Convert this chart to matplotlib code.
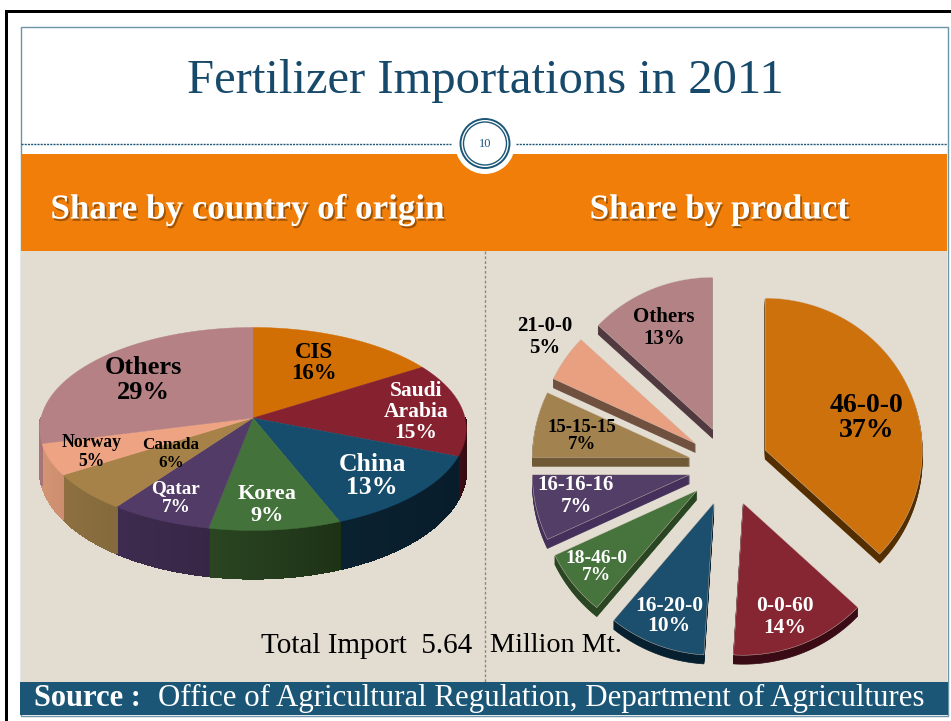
import numpy as np
import matplotlib
matplotlib.use("Agg")
import matplotlib.pyplot as plt
import matplotlib.patheffects as pe
from matplotlib.patches import Rectangle, Circle
from matplotlib.colors import to_rgb

# ---- data ----
origin_names = ["CIS", "Saudi\nArabia", "China", "Korea", "Qatar", "Canada", "Norway", "Others"]
origin_share = [16, 15, 13, 9, 7, 6, 5, 29]
product_names = ["46-0-0", "0-0-60", "16-20-0", "18-46-0", "16-16-16", "15-15-15", "21-0-0", "Others"]
product_share = [37, 14, 10, 7, 7, 7, 5, 13]

# ---- styles ----
SERIF = "Liberation Serif"
top_colors = ["#D26F04", "#86212F", "#164C6C", "#43733A", "#523B66", "#A68249", "#EEA482", "#B58185"]
wall_left = ["#6a3800", "#3a0d17", "#0A2130", "#2A4522", "#3E2C50", "#8E7040", "#D49575", "#A87478"]
wall_right = ["#5a3000", "#32080F", "#081C2A", "#1E3216", "#372645", "#846A3C", "#CC8E6E", "#A87478"]
prod_top = ["#CD710C", "#862632", "#1C4E6D", "#47733D", "#533E67", "#A28350", "#E9A080", "#B38285"]
prod_wall = ["#552E00", "#3A0B14", "#07202F", "#2A4522", "#44305A", "#705A35", "#70503F", "#503A40"]
origin_text = ["k", "w", "w", "w", "w", "k", "k", "k"]
product_text = ["k", "w", "w", "w", "w", "k", "k", "k"]
origin_pos = [(314, 363), (416, 412), (372, 476), (267, 505), (176, 498), (171, 454), (91.5, 452), (143, 380)]
origin_size = [16.5, 15.5, 18.5, 16, 13.8, 12.3, 12.7, 19]
origin_lh = [22, 21, 24, 22, 19, 17, 18, 26]
product_pos = [(867, 418), (785, 617), (669, 616), (596.5, 567), (576, 496), (582, 436), (545, 337), (664, 328)]
product_size = [20, 15.5, 15.5, 14, 15, 13.5, 15, 15]
product_lh = [24, 21, 20, 18, 22, 18, 21, 21]

BG = "#E3DDD1"
ORANGE = "#F07E08"
BLUE = "#1B5676"
TITLE = "#17496B"

W, H = 951, 721
fig = plt.figure(figsize=(W / 100, H / 100), dpi=100, facecolor="w")
ax = fig.add_axes([0, 0, 1, 1])
ax.set_xlim(0, W)
ax.set_ylim(H, 0)
ax.axis("off")

# ---- slide frame ----
ax.add_patch(Rectangle((5, 10), W, 3, fc="k", ec="none"))
ax.add_patch(Rectangle((5, 10), 3, H, fc="k", ec="none"))
ax.add_patch(Rectangle((20.5, 26.5), 927, 689, fc="w", ec="#6F93A8", lw=1))
ax.add_patch(Rectangle((21, 154), 926, 97, fc=ORANGE, ec="none"))
ax.add_patch(Rectangle((21, 251), 926, 431, fc=BG, ec="none"))
ax.add_patch(Rectangle((20, 682), 928, 33, fc=BLUE, ec="none"))
ax.plot([485, 485], [251, 682], color="#8A8A80", lw=1, ls=(0, (2, 1.5)))
for xs in ([21, 451], [516, 947]):
    ax.plot(xs, [144, 144], color=BLUE, lw=1, ls=(0, (1.5, 0.8)))
ax.add_patch(Circle((485, 144), 30, fc="w", ec="none", zorder=3))
ax.add_patch(Circle((485, 143.5), 24.5, fc="none", ec=BLUE, lw=1.4, zorder=4))
ax.add_patch(Circle((485, 143.5), 21.5, fc="none", ec=BLUE, lw=1.0, zorder=4))
ax.text(485, 144, "10", family=SERIF, fontsize=9, color=BLUE, ha="center", va="center", zorder=5)

# ---- header text ----
ax.text(485, 81, "Fertilizer Importations in 2011", family=SERIF, fontsize=35, color=TITLE,
        ha="center", va="center")
shadow = [pe.withSimplePatchShadow(offset=(1.2, -1.6), shadow_rgbFace="k", alpha=0.35)]
ax.text(248, 210, "Share by country of origin", family=SERIF, fontsize=25.2, weight="bold", color="w",
        ha="center", va="center", path_effects=shadow)
ax.text(719.5, 210, "Share by product", family=SERIF, fontsize=25.2, weight="bold", color="w",
        ha="center", va="center", path_effects=shadow)


# ---- left 3D pie with perspective ----
CX, CY, RX, RY, K, DEPTH = 253, 418, 212, 100.3, 0.108, 48


def project(deg):
    t = np.radians(deg)
    u, v = np.sin(t), np.cos(t)
    w = 1 + K * v
    return CX + RX * u / w, CY - RY * v / w


edges = np.concatenate([[0], np.cumsum(origin_share)]) * 3.6

for i in range(len(origin_share)):
    a0, a1 = max(edges[i], 90), min(edges[i + 1], 270)
    if a1 <= a0:
        continue
    steps = max(2, int((a1 - a0) / 1.0))
    angles = np.linspace(a0, a1, steps + 1)
    c0, c1 = np.array(to_rgb(wall_left[i])), np.array(to_rgb(wall_right[i]))
    for j in range(steps):
        x0, y0 = project(angles[j])
        x1, y1 = project(angles[j + 1])
        f = j / max(steps - 1, 1)
        col = c1 * (1 - f) + c0 * f
        dy0 = DEPTH * (0.82 + 0.18 * abs(np.cos(np.radians(angles[j]))))
        dy1 = DEPTH * (0.82 + 0.18 * abs(np.cos(np.radians(angles[j + 1]))))
        # later quads overlap earlier ones slightly so no seams show between them
        ax.fill([x0, x1, x1, x0], [y0, y1, y1 + dy1, y0 + dy0], facecolor=col, edgecolor=col,
                lw=1.0, antialiased=False, zorder=5)

for i in range(len(origin_share)):
    angles = np.linspace(edges[i], edges[i + 1], 80)
    xs, ys = project(angles)
    ax.fill(np.r_[CX, xs], np.r_[CY, ys], color=top_colors[i], lw=0.3, zorder=6)

for name, val, pos, size, lh, col in zip(origin_names, origin_share, origin_pos, origin_size, origin_lh, origin_text):
    ax.text(pos[0], pos[1], f"{name}\n{val}%", family=SERIF, weight="bold", fontsize=size, color=col,
            ha="center", va="center", linespacing=lh / (size * 1.39 * 0.91), zorder=8)

# ---- right exploded pie ----
PX, PY, PRX, PRY, EXPL, PDEPTH = 728.5, 466, 157, 152, 40, 9
pedges = np.concatenate([[0], np.cumsum(product_share)]) * 3.6


def prod_poly(i):
    mid = np.radians((pedges[i] + pedges[i + 1]) / 2)
    ax0 = PX + EXPL * np.sin(mid)
    ay0 = PY - EXPL * np.cos(mid)
    t = np.radians(np.linspace(pedges[i], pedges[i + 1], 80))
    return np.r_[ax0, ax0 + PRX * np.sin(t)], np.r_[ay0, ay0 - PRY * np.cos(t)]


for i in range(len(product_share)):
    xs, ys = prod_poly(i)
    for d in np.arange(PDEPTH, 0, -1):
        ax.fill(xs, ys + d, color=prod_wall[i], lw=0.5, zorder=5)
    ax.fill(xs, ys, facecolor=prod_top[i], edgecolor="#D8C8BC", lw=0.3, zorder=6)

for name, val, pos, size, lh, col in zip(product_names, product_share, product_pos, product_size, product_lh, product_text):
    ax.text(pos[0], pos[1], f"{name}\n{val}%", family=SERIF, weight="bold", fontsize=size, color=col,
            ha="center", va="center", linespacing=lh / (size * 1.39 * 0.91), zorder=8)

# ---- footer ----
ax.text(261, 646, "Total Import  5.64", family=SERIF, fontsize=21, color="k", va="center", zorder=9)
ax.text(490, 646, "Million Mt.", family=SERIF, fontsize=20.3, color="k", va="center", zorder=9)
ax.text(34, 698, "Source :", family=SERIF, fontsize=22, weight="bold", color="w", va="center", zorder=9)
ax.text(158, 698, "Office of Agricultural Regulation, Department of Agricultures", family=SERIF,
        fontsize=22.2, color="w", va="center", zorder=9)

fig.savefig("out.png", dpi=100, facecolor="w")
